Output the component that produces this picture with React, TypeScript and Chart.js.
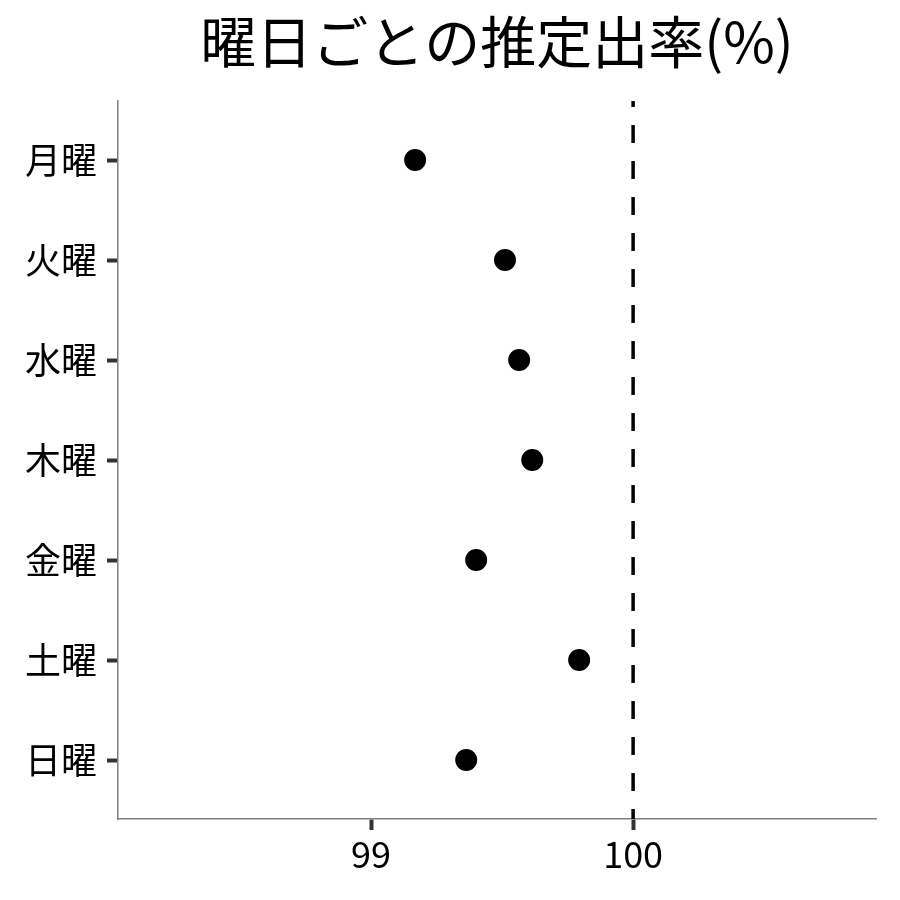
import React, { useEffect, useRef } from "react";
import { Chart, registerables } from "chart.js";

Chart.register(...registerables);

const days = ["月曜", "火曜", "水曜", "木曜", "金曜", "土曜", "日曜"];
const rates = [99.168, 99.511, 99.565, 99.615, 99.401, 99.794, 99.363];
const xTicks = [99, 100];
const refValue = 100;
const titleText = "曜日ごとの推定出率(%)";

const FONT = '"Noto Sans CJK JP", "Noto Sans", sans-serif';

export default function App() {
  const ref = useRef<HTMLCanvasElement | null>(null);
  useEffect(() => {
    if (!ref.current) return;
    const yMin = -0.59;
    const yMax = days.length - 1 + 0.59;
    const chart = new Chart(ref.current, {
      type: "scatter",
      data: {
        datasets: [
          {
            type: "line",
            data: [
              { x: refValue, y: yMin },
              { x: refValue, y: yMax },
            ],
            borderColor: "#000",
            borderWidth: 3.5,
            borderDash: [18, 18],
            borderDashOffset: 12,
            pointRadius: 0,
            fill: false,
          } as any,
          {
            data: rates.map((v, i) => ({ x: v, y: i })),
            backgroundColor: "#000",
            borderColor: "#000",
            pointRadius: 11,
            pointHoverRadius: 11,
            borderWidth: 0,
          },
        ],
      },
      options: {
        animation: false,
        responsive: false,
        layout: { padding: { left: 0, right: 24, top: 0, bottom: 0 } },
        plugins: {
          legend: { display: false },
          tooltip: { enabled: false },
          title: {
            display: true,
            text: titleText,
            fullSize: false,
            color: "#000",
            font: { family: FONT, size: 56, weight: "normal" },
            padding: { top: 8, bottom: 25.8 },
          },
        },
        scales: {
          x: {
            type: "linear",
            min: 98.034,
            max: 100.927,
            afterBuildTicks: (s: any) => {
              s.ticks = xTicks.map((v) => ({ value: v }));
            },
            afterFit: (s: any) => {
              s.height = 81;
            },
            ticks: {
              color: "#000",
              font: { family: FONT, size: 36 },
              padding: 3,
              callback: (v: any) => String(v),
            },
            grid: {
              drawOnChartArea: false,
              drawTicks: true,
              tickLength: 11,
              tickWidth: 4,
              tickColor: "#333",
            },
            border: { display: true, color: "#808080", width: 1.5 },
          },
          y: {
            type: "linear",
            reverse: true,
            min: yMin,
            max: yMax,
            afterBuildTicks: (s: any) => {
              s.ticks = days.map((_, i) => ({ value: i }));
            },
            afterFit: (s: any) => {
              s.width = 118;
            },
            ticks: {
              color: "#000",
              font: { family: FONT, size: 36 },
              padding: 10,
              callback: (v: any) => days[Math.round(Number(v))] ?? "",
            },
            grid: {
              drawOnChartArea: false,
              drawTicks: true,
              tickLength: 11,
              tickWidth: 4,
              tickColor: "#333",
            },
            border: { display: true, color: "#808080", width: 1.5 },
          },
        },
      },
    });
    return () => chart.destroy();
  }, []);
  return (
    <div style={{ position: "absolute", left: 0, top: 0, width: 900, height: 900, background: "#fff" }}>
      <canvas ref={ref} width={900} height={900} style={{ width: 900, height: 900 }} />
    </div>
  );
}
